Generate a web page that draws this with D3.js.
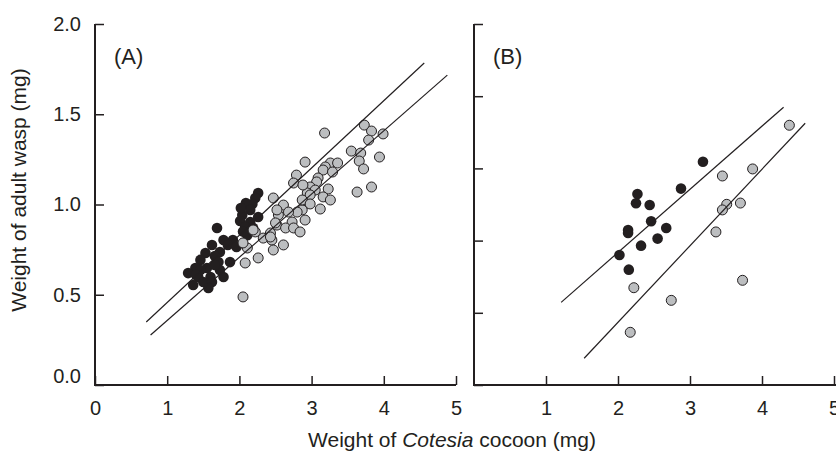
<!DOCTYPE html>
<html>
<head>
<meta charset="utf-8">
<script src="https://cdn.jsdelivr.net/npm/d3@7"></script>
<style>
  body { margin: 0; background: #fff; }
  svg { display: block; }
  text { font-family: "Liberation Sans", Arial, sans-serif; fill: #231f20; }
</style>
</head>
<body>
<svg id="chart" width="836" height="459"></svg>
<script>
// Panel A: [cocoon weight, adult weight]
const blackA = [
    [2.26, 1.064], [2.22, 1.036], [2.18, 1.003], [2.09, 1.008], [2.15, 0.970],
    [2.04, 0.942], [2.01, 0.909], [2.15, 0.903], [2.26, 0.931], [2.08, 0.875],
    [2.19, 0.870], [1.69, 0.870], [1.91, 0.803], [1.78, 0.803], [1.62, 0.776],
    [1.84, 0.776], [1.73, 0.737], [1.53, 0.731], [1.66, 0.715], [1.46, 0.693],
    [1.71, 0.681], [1.87, 0.681], [1.39, 0.648], [1.55, 0.648], [1.73, 0.637],
    [1.29, 0.620], [1.43, 0.598], [1.60, 0.598], [1.78, 0.598], [1.50, 0.571],
    [1.62, 0.571], [1.36, 0.554], [1.57, 0.537], [1.46, 0.637], [1.66, 0.665],
    [2.02, 0.980], [2.11, 0.830], [1.96, 0.765], [2.05, 0.850], [1.40, 0.610]
];
const greyA = [
    [3.18, 1.396], [3.73, 1.440], [3.83, 1.407], [3.99, 1.391], [3.79, 1.357],
    [3.55, 1.296], [3.68, 1.285], [3.94, 1.263], [3.66, 1.241], [3.72, 1.197],
    [3.63, 1.069], [3.83, 1.097], [2.91, 1.235], [3.26, 1.230], [3.36, 1.230],
    [3.19, 1.208], [3.16, 1.191], [3.29, 1.180], [3.09, 1.147], [3.07, 1.125],
    [2.98, 1.097], [3.23, 1.086], [3.16, 1.042], [3.26, 1.025], [3.12, 0.975],
    [2.94, 1.064], [2.94, 1.008], [2.87, 0.970], [2.79, 1.163], [2.75, 1.119],
    [2.47, 1.036], [2.61, 0.997], [2.88, 1.108], [3.05, 1.080], [2.98, 1.053],
    [2.87, 1.025], [2.98, 1.003], [2.80, 0.958], [2.68, 0.958], [2.54, 0.942],
    [2.52, 0.970], [2.91, 0.914], [2.73, 0.903], [2.52, 0.886], [2.64, 0.870],
    [2.75, 0.870], [2.84, 0.848], [2.43, 0.842], [2.22, 0.848], [2.33, 0.814],
    [2.45, 0.803], [2.61, 0.776], [2.47, 0.748], [2.11, 0.759], [2.05, 0.787],
    [2.19, 0.859], [2.26, 0.704], [2.08, 0.676], [2.05, 0.488], [2.50, 0.898],
    [2.43, 0.820]
];
const linesA = [
    [[0.71, 0.349], [4.56, 1.784]],
    [[0.77, 0.277], [4.88, 1.717]]
];

// Panel B
const blackB = [
    [3.18, 1.237], [2.875, 1.088], [2.27, 1.058], [2.25, 1.007], [2.44, 0.997],
    [2.46, 0.907], [2.67, 0.870], [2.14, 0.859], [2.14, 0.842], [2.55, 0.811],
    [2.32, 0.772], [2.02, 0.720], [2.15, 0.639]
];
const greyB = [
    [4.38, 1.439], [3.87, 1.197], [3.45, 1.158], [3.51, 1.001], [3.45, 0.970],
    [3.70, 1.008], [3.36, 0.848], [3.73, 0.580], [2.22, 0.539], [2.74, 0.469],
    [2.17, 0.292]
];
const linesB = [
    [[1.21, 0.458], [4.30, 1.539]],
    [[1.53, 0.148], [4.60, 1.450]]
];

const xTicksA = [0, 1, 2, 3, 4, 5];
const xTicksB = [1, 2, 3, 4, 5];
const yTicksA = [0, 0.5, 1.0, 1.5, 2.0];
const yTicksB = [0, 0.4, 0.8, 1.2, 1.6, 2.0];

const ink = "#231f20";
const svg = d3.select("#chart");

const y = d3.scaleLinear().domain([0, 2]).range([385, 24]);
const xA = d3.scaleLinear().domain([0, 5]).range([95, 456]);
const xB = d3.scaleLinear().domain([0, 5]).range([474, 834]);

function panel(x, xTicks, yTicks, yLabels, black, grey, lines, tag, xEnd) {
    const g = svg.append("g");

    // x axis
    const xa = g.append("g")
        .attr("transform", `translate(0,${y(0)})`)
        .call(d3.axisBottom(x).tickValues(xTicks).tickSize(-9).tickSizeOuter(0).tickPadding(16)
            .tickFormat(d3.format("d")));
    xa.select(".domain").remove();
    xa.append("line")
        .attr("x1", x(0)).attr("x2", xEnd)
        .attr("stroke", ink).attr("stroke-width", 2);

    // y axis
    const ya = g.append("g")
        .attr("transform", `translate(${x(0)},0)`)
        .call(d3.axisLeft(y).tickValues(yTicks).tickSize(-9).tickSizeOuter(0).tickPadding(14)
            .tickFormat(yLabels ? d3.format(".1f") : () => ""));
    ya.select(".domain").remove();
    ya.append("line")
        .attr("y1", y(0) + 1).attr("y2", y(2))
        .attr("stroke", ink).attr("stroke-width", 2);
    ya.selectAll(".tick text").filter(d => d === 0).attr("y", -9);

    g.selectAll(".tick line").attr("stroke", ink).attr("stroke-width", 1.5);
    g.selectAll(".tick text")
        .attr("fill", ink)
        .style("font-size", "20px")
        .style("font-family", "'Liberation Sans', Arial, sans-serif");

    g.selectAll(".blk")
        .data(black)
        .enter().append("circle")
        .attr("class", "blk")
        .attr("cx", d => x(d[0]))
        .attr("cy", d => y(d[1]))
        .attr("r", 5.3)
        .attr("fill", ink);

    g.selectAll(".gry")
        .data(grey)
        .enter().append("circle")
        .attr("class", "gry")
        .attr("cx", d => x(d[0]))
        .attr("cy", d => y(d[1]))
        .attr("r", 5)
        .attr("fill", "#bcbec0")
        .attr("stroke", ink)
        .attr("stroke-width", 1);

    g.selectAll(".fit")
        .data(lines)
        .enter().append("line")
        .attr("class", "fit")
        .attr("x1", d => x(d[0][0])).attr("y1", d => y(d[0][1]))
        .attr("x2", d => x(d[1][0])).attr("y2", d => y(d[1][1]))
        .attr("stroke", ink)
        .attr("stroke-width", 1.2);

    g.append("text")
        .attr("x", x(0) + 19)
        .attr("y", 64)
        .style("font-size", "22px")
        .text(tag);
}

panel(xA, xTicksA, yTicksA, true, blackA, greyA, linesA, "(A)", xA(5));
panel(xB, xTicksB, yTicksB, false, blackB, greyB, linesB, "(B)", 836);

// Axis titles
svg.append("text")
    .attr("transform", "rotate(-90)")
    .attr("x", -190)
    .attr("y", 26)
    .style("text-anchor", "middle")
    .style("font-size", "21px")
    .text("Weight of adult wasp (mg)");

const xt = svg.append("text")
    .attr("x", 452)
    .attr("y", 447)
    .style("text-anchor", "middle")
    .style("font-size", "21px");
xt.append("tspan").text("Weight of ");
xt.append("tspan").style("font-style", "italic").text("Cotesia");
xt.append("tspan").text(" cocoon (mg)");
</script>
</body>
</html>
